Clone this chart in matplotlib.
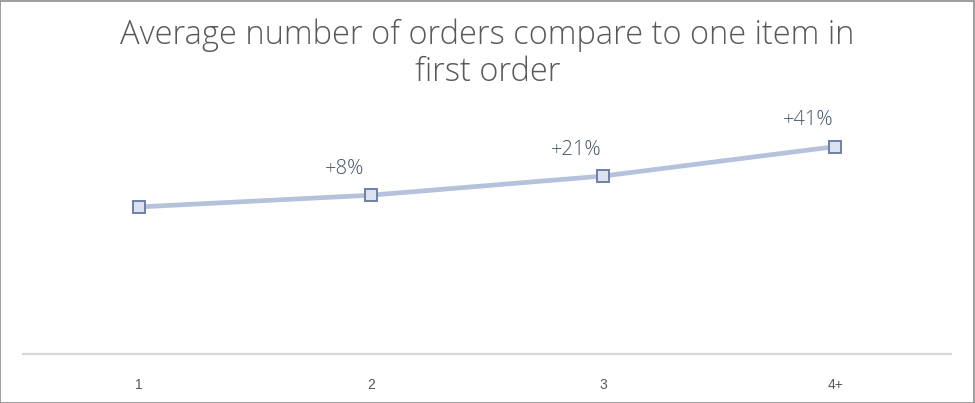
import matplotlib
matplotlib.use("Agg")
import matplotlib.pyplot as plt
from matplotlib.patches import Rectangle

# data
categories = ["1", "2", "3", "4+"]
avg_orders = [1.00, 1.08, 1.21, 1.41]
labels = ["", "+8%", "+21%", "+41%"]

title = "Average number of orders compare to one item in\nfirst order"

fig = plt.figure(figsize=(9.75, 4.03), dpi=100)
fig.patch.set_facecolor("white")
fig.patches.append(Rectangle((0.0005, 0.001), 0.998, 0.997, transform=fig.transFigure,
                             fill=False, edgecolor="#8c8c8c", linewidth=1.2))

ax = fig.add_axes([23 / 975, 49 / 403, 928 / 975, 250 / 403])
x = list(range(len(categories)))
ax.plot(x, avg_orders, color="#b4c2dc", linewidth=3.4, solid_capstyle="round",
        marker="s", markersize=8, markerfacecolor="#dbe1ef",
        markeredgecolor="#6f80a8", markeredgewidth=1.4, zorder=3)

for xi, yi, lab in zip(x, avg_orders, labels):
    if lab:
        ax.annotate(lab, (xi, yi), xytext=(-19, 19), textcoords="offset points",
                    ha="center", va="center", fontsize=14.5, color="#44546a",
                    family="Open Sans", fontweight="light")

ax.set_xlim(-0.5, len(categories) - 0.5)
ax.set_ylim(0, 1.7)
ax.set_xticks(x)
ax.set_xticklabels(categories, fontsize=10, color="#595959", family="Liberation Sans")
ax.set_yticks([])
ax.tick_params(axis="x", length=0, pad=17)
for s in ["top", "right", "left"]:
    ax.spines[s].set_visible(False)
ax.spines["bottom"].set_color("#d9d9d9")
ax.spines["bottom"].set_linewidth(1.6)

fig.text(0.5, 0.866, title, ha="center", va="center", fontsize=23.5,
         color="#595959", family="Open Sans", fontweight="light", linespacing=1.12)

fig.savefig("out.png", dpi=100)
